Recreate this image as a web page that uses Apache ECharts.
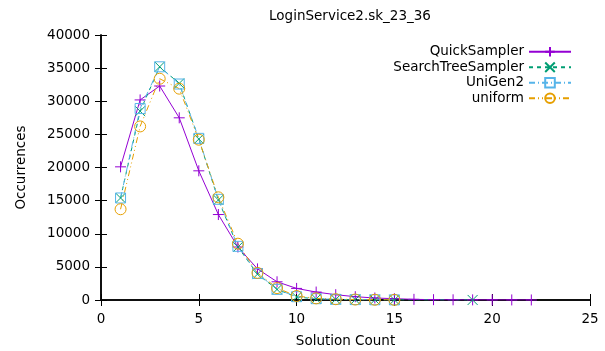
<!DOCTYPE html>
<html>
<head>
<meta charset="utf-8">
<script src="https://cdn.jsdelivr.net/npm/echarts@6/dist/echarts.min.js"></script>
<style>html,body{margin:0;padding:0;background:#fff}#c{width:605px;height:351px}</style>
</head>
<body>
<div id="c"></div>
<script>
const qsX = [1,2,3,4,5,6,7,8,9,10,11,12,13,14,15,16,17,18,19,20,21,22];
const qsY = [20100,30200,32300,27500,19500,12900,8000,4700,2750,1750,1200,800,500,300,200,100,50,30,20,15,10,5];
const stsX = [1,2,3,4,5,6,7,8,9,10,11,12,13,14,15,19];
const stsY = [15400,28500,35200,32700,24300,15100,8000,3900,1600,450,180,90,50,30,20,5];
const ugX = [1,2,3,4,5,6,7,8,9,10,11,12,13,14,15];
const ugY = [15400,28900,35200,32600,24400,15200,8100,4000,1600,500,200,100,60,35,20];
const unX = [1,2,3,4,5,6,7,8,9,10,11,12,13,14,15];
const unY = [13700,26200,33400,31900,24200,15500,8500,4100,1800,600,250,120,70,40,25];
const xTicks = [0,5,10,15,20,25];
const yTicks = [0,5000,10000,15000,20000,25000,30000,35000,40000];

const pairs = (xs, ys) => xs.map((x, i) => [x, ys[i]]);
const FONT = 'DejaVu Sans';
const FS = 13.5;
function mk(name, xs, ys, color, symbol, size, dash) {
  return {
    name, type: 'line', data: pairs(xs, ys),
    symbol, symbolSize: size, showSymbol: true,
    itemStyle: { color: 'rgba(0,0,0,0)', borderColor: color, borderWidth: 1 },
    lineStyle: { color, width: 1, type: dash },
    emphasis: { disabled: true }, animation: false
  };
}
const chart = echarts.init(document.getElementById('c'));
const axisCommon = {
  axisLine: { show: true, lineStyle: { color: '#000', width: 1.5 } },
  axisTick: { show: true, inside: true, length: 6, lineStyle: { color: '#000' } },
  splitLine: { show: false }
};
chart.setOption({
  animation: false,
  title: { text: 'LoginService2.sk_23_36', left: 345, top: 4, textAlign: 'center',
    textStyle: { fontFamily: FONT, fontSize: FS, fontWeight: 'normal', color: '#000' } },
  grid: { left: 101, right: 15, top: 35, bottom: 51, containLabel: false, outerBoundsMode: 'none' },
  legend: {
    right: 28, top: 39, orient: 'vertical', align: 'right', itemWidth: 42, itemHeight: 12, itemGap: 0,
    textStyle: { fontFamily: FONT, fontSize: FS, color: '#000', lineHeight: 15.5 }
  },
  xAxis: [
    Object.assign({ type: 'value', min: 0, max: 25, interval: 5, position: 'bottom',
      name: 'Solution Count', nameLocation: 'middle', nameGap: 34,
      nameTextStyle: { fontFamily: FONT, fontSize: FS, color: '#000' },
      axisLabel: { fontFamily: FONT, fontSize: FS, color: '#000', margin: 12,
        formatter: v => xTicks.includes(v) ? String(v) : '' } }, axisCommon),
    Object.assign({ type: 'value', min: 0, max: 25, interval: 5, position: 'top',
      axisLabel: { show: false } }, axisCommon)
  ],
  yAxis: [
    Object.assign({ type: 'value', min: 0, max: 40000, interval: 5000, position: 'left',
      name: 'Occurrences', nameLocation: 'middle', nameGap: 73,
      nameTextStyle: { fontFamily: FONT, fontSize: FS, color: '#000' },
      axisLabel: { fontFamily: FONT, fontSize: FS, color: '#000', margin: 11,
        formatter: v => yTicks.includes(v) ? String(v) : '' } }, axisCommon),
    Object.assign({ type: 'value', min: 0, max: 40000, interval: 5000, position: 'right',
      axisLabel: { show: false } }, axisCommon)
  ],
  series: [
    mk('QuickSampler', qsX, qsY, '#9400d3', 'path://M0,5L10,5M5,0L5,10', 11, 'solid'),
    mk('SearchTreeSampler', stsX, stsY, '#009e73', 'path://M0,0L10,10M0,10L10,0', 10, [4, 4]),
    mk('UniGen2', ugX, ugY, '#56b4e9', 'rect', 10, [6, 3, 1, 3]),
    mk('uniform', unX, unY, '#e69f00', 'circle', 11, [6, 3, 1, 3, 1, 3])
  ]
});
</script>
</body>
</html>
